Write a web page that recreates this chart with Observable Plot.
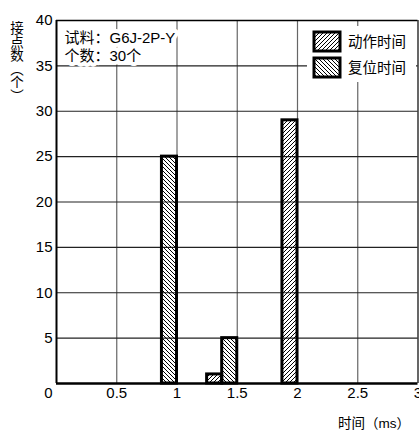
<!DOCTYPE html>
<html><head><meta charset="utf-8">
<script src="https://cdn.jsdelivr.net/npm/d3@7"></script>
<script src="https://cdn.jsdelivr.net/npm/@observablehq/plot@0.6"></script>
<style>body{margin:0;background:#fff;}</style>
</head><body><div id="chart"></div>
<script>
// ---- data ----
const binStart = [0.875, 1.25, 1.375, 1.875];
const binEnd   = [1.0,   1.375, 1.5,  2.0];
const counts   = [25, 1, 5, 29];
const seriesOf = ["复位时间", "动作时间", "复位时间", "动作时间"];
const seriesNames = ["动作时间", "复位时间"];
const xTickValues = [0.5, 1, 1.5, 2, 2.5, 3];
const xGridValues = [0.5, 1, 1.5, 2, 2.5];
const yTickValues = [5, 10, 15, 20, 25, 30, 35, 40];
const yGridValues = [5, 10, 15, 20, 25, 30, 35];
const noteLines = ["试料：G6J-2P-Y", "个数：30个"];
const xTitle = "时间（ms）";
const yTitle = "接点数（个）";

const patternOf = {"动作时间": "url(#hatchA)", "复位时间": "url(#hatchB)"};
const bars = counts.map((c, i) => ({x1: binStart[i], x2: binEnd[i], count: c, series: seriesOf[i]}));

const W = 419, H = 434;
const font = "'Liberation Sans', Arial, 'Noto Sans CJK SC', sans-serif";
const fmt = d => String(d);

const svg = Plot.plot({
  width: W, height: H,
  marginLeft: 56, marginRight: 1.5, marginTop: 20, marginBottom: 51,
  style: {fontFamily: font, fontSize: "15px", background: "#fff", color: "#000"},
  x: {domain: [0, 3]},
  y: {domain: [0, 40]},
  color: {type: "identity"},
  marks: [
    Plot.ruleX(xGridValues, {stroke: "#666", strokeWidth: 1.2}),
    Plot.ruleY(yGridValues, {stroke: "#222", strokeWidth: 1.1}),
    Plot.ruleY([40], {stroke: "#000", strokeWidth: 1.5}),
    Plot.ruleX([3], {stroke: "#000", strokeWidth: 1.2}),
    Plot.text([noteLines.join("\n")], {frameAnchor: "top-left", textAnchor: "start", lineAnchor: "top",
      dx: 8, dy: 9, lineHeight: 1.22, fontSize: 15, fill: "#000", stroke: "#fff", strokeWidth: 8}),
    Plot.rectY(bars, {x1: "x1", x2: "x2", y: "count", fill: d => patternOf[d.series], stroke: "#000", strokeWidth: 3}),
    Plot.ruleX([0], {stroke: "#000", strokeWidth: 2}),
    Plot.ruleY([0], {stroke: "#000", strokeWidth: 2.5}),
    Plot.axisY({ticks: yTickValues, tickFormat: fmt, tickSize: 0, tickPadding: 4, fontSize: 15, label: null}),
    Plot.axisX({ticks: xTickValues, tickFormat: fmt, tickSize: 0, tickPadding: 4, fontSize: 15, label: null}),
    Plot.axisX({ticks: [0], tickFormat: fmt, tickSize: 0, tickPadding: 4, fontSize: 15, label: null, dx: -8}),
    Plot.text([xTitle], {frameAnchor: "bottom-right", textAnchor: "end", lineAnchor: "middle", dx: -8, dy: 40, fontSize: 13.5, fill: "#000"}),
    Plot.text([yTitle], {frameAnchor: "top-left", textAnchor: "start", lineAnchor: "bottom", dx: -41, dy: 1, fontSize: 13.5, fill: "#000"})
  ]
});

const s = d3.select(svg);
const defs = s.insert("defs", ":first-child");
function hatch(id, d) {
  defs.append("pattern").attr("id", id).attr("patternUnits", "userSpaceOnUse")
    .attr("width", 4).attr("height", 4)
    .append("path").attr("d", d).attr("stroke", "#000").attr("stroke-width", 1).attr("fill", "none");
}
hatch("hatchA", "M0,4L4,0M-1,1L1,-1M3,5L5,3");
hatch("hatchB", "M0,0L4,4M-1,3L1,5M3,-1L5,1");

s.selectAll("text").filter(function() { return this.textContent === yTitle; })
  .attr("writing-mode", "vertical-rl").style("writing-mode", "vertical-rl").attr("text-anchor", "start");

// legend
const lg = s.append("g").attr("font-family", font).attr("text-anchor", "start");
lg.append("rect").attr("x", 307).attr("y", 26).attr("width", 109).attr("height", 56).attr("fill", "#fff");
seriesNames.forEach((name, i) => {
  const y0 = 31 + i * 26;
  lg.append("rect").attr("x", 314).attr("y", y0 + 1).attr("width", 26).attr("height", 19)
    .attr("fill", patternOf[name]).attr("stroke", "#000").attr("stroke-width", 3);
  lg.append("text").attr("x", 348).attr("y", y0 + 10.5).attr("dy", "0.35em")
    .attr("font-size", 14.5).attr("fill", "#000").text(name);
});

document.getElementById("chart").appendChild(svg);
</script></body></html>
